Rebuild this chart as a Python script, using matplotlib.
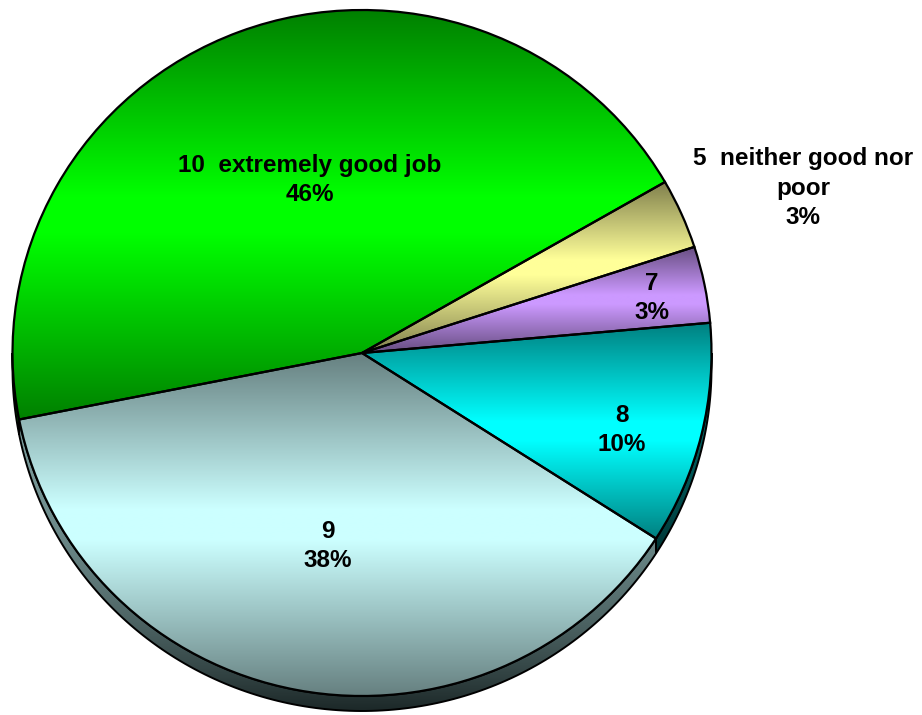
import numpy as np
import matplotlib
matplotlib.use('Agg')
import matplotlib.pyplot as plt
from matplotlib.colors import to_rgb
from matplotlib.patches import Polygon

# data (clockwise from the top right)
categories = ['5  neither good nor\npoor', '7', '8', '9', '10  extremely good job']
shares = [3.3, 3.6, 10.5, 37.8, 44.8]
pct_labels = ['3%', '3%', '10%', '38%', '46%']

# styling
light = ['#ffff99', '#cc99ff', '#00ffff', '#ccffff', '#00ff00']
dark = ['#80804d', '#664d80', '#008080', '#668080', '#008000']
side_top = ['#808050', '#604880', '#006868', '#7a9a9a', '#007000']
side_bot = ['#404020', '#302440', '#003434', '#1c2828', '#003000']
label_px = [(803, 188), (652, 298), (622, 430), (328, 546), (310, 180)]

W, H = 922, 715
cx, cy, rx, ry, depth = 362, 353, 349.5, 343, 15
d = depth / ry


def px2data(x, y):
    return (x - cx) / rx, (cy - y) / ry


def gradient(c_hi, c_lo, mode, n=256):
    t = np.linspace(0, 1, n)
    if mode == 'center':
        w = 1 - np.abs(2 * t - 1)
        w = np.clip(w * 1.1, 0, 1)
    else:
        w = 1 - t ** 2
    hi, lo = np.array(to_rgb(c_hi)), np.array(to_rgb(c_lo))
    return (lo + (hi - lo) * w[:, None])[:, None, :]


fig = plt.figure(figsize=(W / 100, H / 100), dpi=100)
ax = fig.add_axes([0, 0, 1, 1])
wedges, _ = ax.pie(shares, startangle=29.9, counterclock=False, radius=1,
                   wedgeprops=dict(facecolor='none', edgecolor='black',
                                   linewidth=1.6, zorder=3))

for i, w in enumerate(wedges):
    th = np.radians(np.linspace(w.theta1, w.theta2, 200))
    xs = np.append(np.cos(th), 0)
    ys = np.append(np.sin(th), 0)
    ax.imshow(gradient(light[i], dark[i], 'center'),
              extent=(xs.min(), xs.max(), ys.min(), ys.max()),
              origin='upper', aspect='auto', interpolation='bilinear',
              zorder=2, clip_path=w)

    # side of the 3d pie, only where the rim faces down
    for k in (-1, 0, 1):
        a = max(w.theta1, 180 + 360 * k)
        b = min(w.theta2, 360 + 360 * k)
        if b <= a:
            continue
        t = np.radians(np.linspace(a, b, 150))
        top = np.column_stack([np.cos(t), np.sin(t)])
        bot = np.column_stack([np.cos(t), np.sin(t) - d])[::-1]
        side = Polygon(np.vstack([top, bot]), closed=True, facecolor='none',
                       edgecolor='black', linewidth=1.4, zorder=1.5)
        ax.add_patch(side)
        ax.imshow(gradient(side_top[i], side_bot[i], 'down'),
                  extent=(np.cos(t).min(), np.cos(t).max(),
                          np.sin(t).min() - d, np.sin(t).max()),
                  origin='upper', aspect='auto', interpolation='bilinear',
                  zorder=1.2, clip_path=side)

for i, (x, y) in enumerate(label_px):
    ax.text(*px2data(x, y), f'{categories[i]}\n{pct_labels[i]}',
            ha='center', va='center', fontsize=17.5, fontweight='bold',
            family='Liberation Sans', linespacing=1.38, zorder=5)

ax.set_aspect('auto')
ax.set_xlim(-cx / rx, (W - cx) / rx)
ax.set_ylim((cy - H) / ry, cy / ry)
ax.axis('off')
fig.savefig('out.png', dpi=100)
